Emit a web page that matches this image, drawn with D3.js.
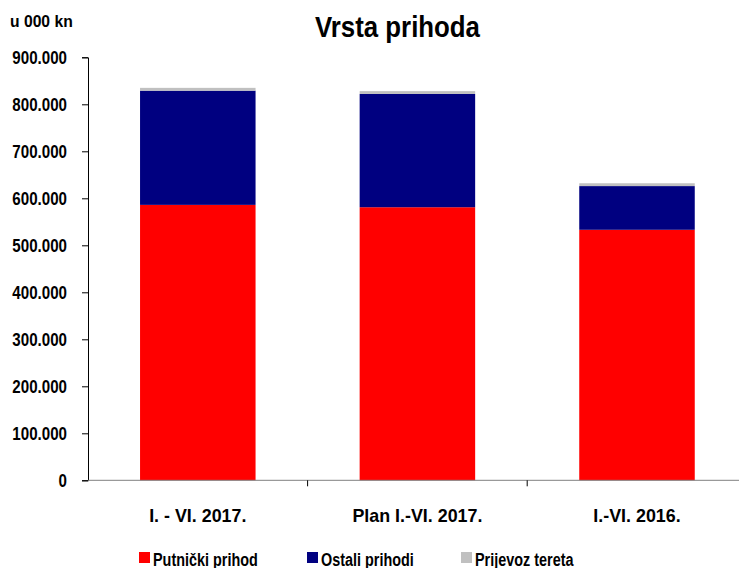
<!DOCTYPE html>
<html>
<head>
<meta charset="utf-8">
<script src="https://cdn.jsdelivr.net/npm/d3@7"></script>
<style>
  body { margin: 0; background: #fff; }
  text { font-family: "Liberation Sans", Arial, sans-serif; font-weight: bold; fill: #000; }
</style>
</head>
<body>
<svg width="739" height="568"></svg>
<script>
// data, u 000 kn
var categories = ["I. - VI. 2017.", "Plan I.-VI. 2017.", "I.-VI. 2016."];
var putnicki = [586000, 581000, 533000];
var ostali = [243000, 241000, 93000];
var teret = [6000, 6000, 6000];
var seriesNames = ["Putnički prihod", "Ostali prihodi", "Prijevoz tereta"];
var seriesColors = ["#ff0000", "#000080", "#c0c0c0"];
var yTicks = [0, 100000, 200000, 300000, 400000, 500000, 600000, 700000, 800000, 900000];

var svg = d3.select("svg");
var mLeft = 88, mTop = 57.3, mBottom = 480.3;
var bandW = 219.6;

// fake a narrow face: squeeze each text horizontally
function squeeze(sel, r) {
	sel.each(function() {
		var w = this.getComputedTextLength();
		d3.select(this).attr("textLength", w * r).attr("lengthAdjust", "spacingAndGlyphs");
	});
}

var rows = categories.map(function(c, i) {
	return { cat: c, p: putnicki[i], o: ostali[i], t: teret[i] };
});
var stack = d3.stack().keys(["p", "o", "t"])(rows);

var x = d3.scaleBand()
	.domain(categories)
	.range([mLeft, mLeft + bandW * 3])
	.paddingInner(0.474)
	.paddingOuter(0.237);

var y = d3.scaleLinear().domain([0, 900000]).range([mBottom, mTop]);

var fmt = function(d) { return d === 0 ? "0" : d3.format(",")(d).replace(/,/g, "."); };

// bars
svg.append("g").selectAll("g")
	.data(stack)
	.enter().append("g")
		.attr("fill", function(d, i) { return seriesColors[i]; })
	.selectAll("rect")
	.data(function(d) { return d; })
	.enter().append("rect")
		.attr("x", function(d) { return x(d.data.cat); })
		.attr("y", function(d) { return y(d[1]); })
		.attr("width", x.bandwidth())
		.attr("height", function(d) { return y(d[0]) - y(d[1]); });

// y axis
var yAxis = svg.append("g")
	.attr("transform", "translate(" + mLeft + ",0)")
	.call(d3.axisLeft(y).tickValues(yTicks).tickFormat(fmt).tickSize(6).tickPadding(15));
yAxis.select(".domain").attr("stroke", "#000");
yAxis.selectAll("text").attr("font-size", null).style("font-size", "18px").attr("dy", "0.36em");
squeeze(yAxis.selectAll("text"), 0.84);

// x axis, ticks at category boundaries
var xg = svg.append("g").attr("transform", "translate(0," + mBottom + ")");
xg.append("line")
	.attr("x1", mLeft).attr("x2", 739)
	.attr("stroke", "#808080");
xg.selectAll(".tk")
	.data([1, 2])
	.enter().append("line")
		.attr("x1", function(d) { return mLeft + d * bandW; })
		.attr("x2", function(d) { return mLeft + d * bandW; })
		.attr("y1", 0).attr("y2", 6)
		.attr("stroke", "#000");
var xl = xg.selectAll(".lbl")
	.data(categories)
	.enter().append("text")
		.attr("x", function(d) { return x(d) + x.bandwidth() / 2; })
		.attr("y", 41.5)
		.attr("text-anchor", "middle")
		.style("font-size", "19px")
		.text(function(d) { return d; });
squeeze(xl, 0.94);

// title + unit
var title = svg.append("text")
	.attr("x", 397.5).attr("y", 37)
	.attr("text-anchor", "middle")
	.style("font-size", "30px")
	.text("Vrsta prihoda");
squeeze(title, 0.86);
var unit = svg.append("text")
	.attr("x", 10).attr("y", 27)
	.style("font-size", "16.5px")
	.text("u 000 kn");
squeeze(unit, 0.95);

// legend
var legX = [139, 307, 461];
var leg = svg.append("g").selectAll("g")
	.data(seriesNames)
	.enter().append("g")
		.attr("transform", function(d, i) { return "translate(" + legX[i] + ",552)"; });
leg.append("rect")
	.attr("width", 11).attr("height", 11)
	.attr("fill", function(d, i) { return seriesColors[i]; });
var lt = leg.append("text")
	.attr("x", 14).attr("y", 14)
	.style("font-size", "18px")
	.text(function(d) { return d; });
squeeze(lt, 0.8);
</script>
</body>
</html>
